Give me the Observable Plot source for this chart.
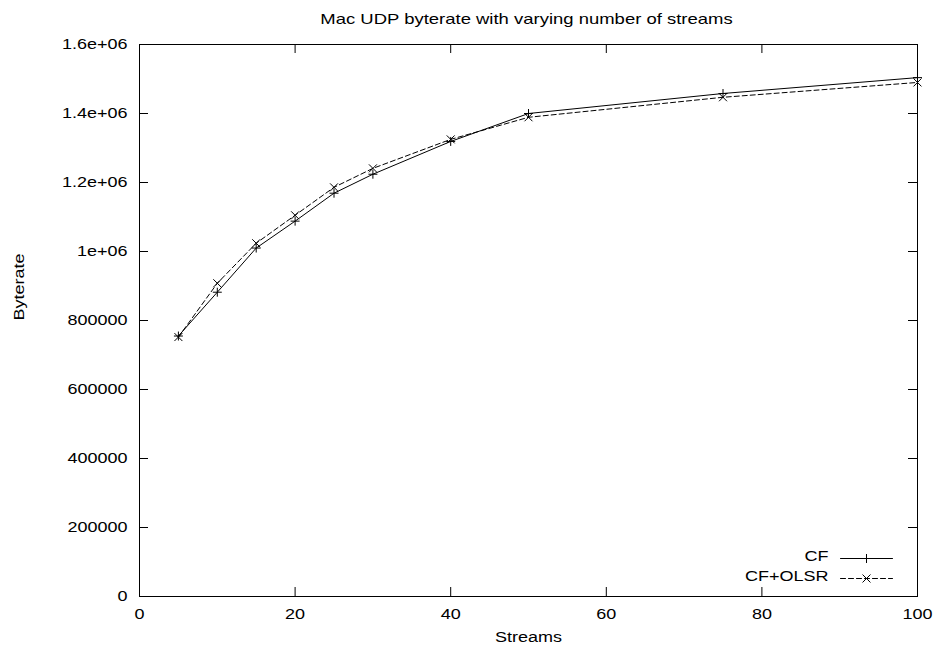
<!DOCTYPE html>
<html><head><meta charset="utf-8">
<script src="https://cdn.jsdelivr.net/npm/d3@7"></script>
<script src="https://cdn.jsdelivr.net/npm/@observablehq/plot@0.6"></script>
<style>body{margin:0;background:#fff}</style>
</head><body><div id="chart"></div>
<script>
const title = "Mac UDP byterate with varying number of streams";
const xLabel = "Streams";
const yLabel = "Byterate";
const seriesNames = ["CF", "CF+OLSR"];
const streams = [5, 10, 15, 20, 25, 30, 40, 50, 75, 100];
const cfValues = [755000, 882000, 1010000, 1088000, 1169000, 1224000, 1319000, 1400000, 1458000, 1504000];
const olsrValues = [752000, 908000, 1024000, 1105000, 1186000, 1241000, 1325000, 1389000, 1447000, 1490000];
const xTicks = [0, 20, 40, 60, 80, 100];
const yTicks = [0, 200000, 400000, 600000, 800000, 1000000, 1200000, 1400000, 1600000];
const yTickLabels = ["0", "200000", "400000", "600000", "800000", "1e+06", "1.2e+06", "1.4e+06", "1.6e+06"];

const cfData = streams.map((s, i) => ({series: seriesNames[0], x: s, y: cfValues[i]}));
const olsrData = streams.map((s, i) => ({series: seriesNames[1], x: s, y: olsrValues[i]}));

const W = 936, H = 655, mL = 139, mR = 19, mT = 44, mB = 59;
const fw = W - mL - mR, fh = H - mT - mB;
const tl = 9;
const dash = "5,3";
const lineShape = {draw(ctx, l) { ctx.moveTo(0, 0); ctx.lineTo(0, -l); }};

const plot = Plot.plot({
  width: W, height: H,
  marginLeft: mL, marginRight: mR, marginTop: mT, marginBottom: mB,
  style: {fontFamily: '"Liberation Sans", Arial, sans-serif', fontSize: "15px", color: "black", background: "white"},
  x: {domain: [0, 100]},
  y: {domain: [0, 1600000]},
  marks: [
    Plot.frame({stroke: "black", strokeWidth: 1}),
    Plot.tickX(xTicks, {x: d => d, stroke: "black", insetTop: fh - tl}),
    Plot.tickX(xTicks, {x: d => d, stroke: "black", insetBottom: fh - tl}),
    Plot.tickY(yTicks, {y: d => d, stroke: "black", insetRight: fw - tl}),
    Plot.tickY(yTicks, {y: d => d, stroke: "black", insetLeft: fw - tl}),
    Plot.axisX(xTicks, {anchor: "bottom", tickSize: 0, tickPadding: 12, label: null}),
    Plot.axisY(yTicks, {anchor: "left", tickSize: 0, tickPadding: 12, label: null,
      tickFormat: d => yTickLabels[yTicks.indexOf(d)]}),
    Plot.line(cfData, {x: "x", y: "y", stroke: "black", strokeWidth: 1}),
    Plot.line(olsrData, {x: "x", y: "y", stroke: "black", strokeWidth: 1, strokeDasharray: dash}),
    Plot.dot(cfData, {x: "x", y: "y", symbol: "plus", r: 3, stroke: "black", strokeWidth: 1}),
    Plot.dot(olsrData, {x: "x", y: "y", symbol: "times", r: 3.7, stroke: "black", strokeWidth: 1}),
    Plot.text([title], {frameAnchor: "top", dy: -31, dx: -2, fontSize: 15.4}),
    Plot.text([xLabel], {frameAnchor: "bottom", dy: 45}),
    Plot.text([yLabel], {frameAnchor: "left", dx: -120, rotate: -90}),
    // legend
    Plot.text([seriesNames[0]], {frameAnchor: "bottom-right", dx: -89, dy: -36, textAnchor: "end"}),
    Plot.text([seriesNames[1]], {frameAnchor: "bottom-right", dx: -89, dy: -16, textAnchor: "end"}),
    Plot.vector([0], {frameAnchor: "bottom-right", dx: -51, dy: -38, length: 52, rotate: 90, anchor: "middle", shape: lineShape, stroke: "black", strokeWidth: 1}),
    Plot.vector([0], {frameAnchor: "bottom-right", dx: -51, dy: -18, length: 52, rotate: 90, anchor: "middle", shape: lineShape, stroke: "black", strokeWidth: 1, strokeDasharray: dash}),
    Plot.dot([0], {frameAnchor: "bottom-right", dx: -51, dy: -38, symbol: "plus", r: 3, stroke: "black", strokeWidth: 1}),
    Plot.dot([0], {frameAnchor: "bottom-right", dx: -51, dy: -18, symbol: "times", r: 3.7, stroke: "black", strokeWidth: 1})
  ]
});

// gnuplot-style horizontally stretched lettering
const sx = 1.2;
plot.querySelectorAll("text").forEach(t => {
  const x = parseFloat(t.getAttribute("x")) || 0;
  const tr = t.getAttribute("transform") || "";
  t.setAttribute("transform", `${tr} translate(${x},0) scale(${sx},1) translate(${-x},0)`.trim());
});
document.getElementById("chart").append(plot);
</script>
</body></html>
